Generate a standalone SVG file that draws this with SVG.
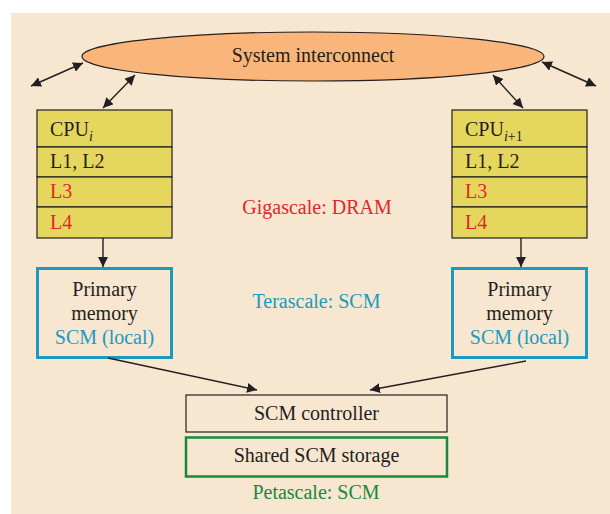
<svg xmlns="http://www.w3.org/2000/svg" width="610" height="514" viewBox="0 0 610 514">
  <defs>
    <marker id="ah" viewBox="0 0 10 10" refX="10" refY="5" markerWidth="10" markerHeight="10" markerUnits="userSpaceOnUse" orient="auto-start-reverse">
      <path d="M0,0 L10,5 L0,10 z" fill="#231f20"/>
    </marker>
    <style>
      text { font-family: "Liberation Serif", "Times New Roman", serif; font-size: 20px; fill: #231f20; }
      .mid { text-anchor: middle; }
      .red { fill: #e2262b; }
      .blue { fill: #1a9bbd; }
      .green { fill: #168a3c; }
      .sub { font-size: 14px; }
      .cell { fill: #e5d75e; stroke: #231f20; stroke-width: 1.2; }
      .mem { fill: #f7e6d0; stroke: #1a9bbd; stroke-width: 3; }
      .link { stroke: #231f20; stroke-width: 1.4; fill: none; }
    </style>
  </defs>

  <!-- backdrop -->
  <rect x="0" y="0" width="610" height="514" fill="#ffffff"/>
  <rect x="11" y="13" width="599" height="501" fill="#f7e6d0"/>

  <!-- interconnect -->
  <g id="interconnect">
    <ellipse cx="313" cy="56.5" rx="231" ry="24.5" fill="#f9b57a" stroke="#231f20" stroke-width="1.2"/>
    <text class="mid" x="313" y="62">System interconnect</text>
  </g>

  <!-- left CPU stack -->
  <g id="cpu-left">
    <rect class="cell" x="37" y="110" width="135" height="37"/>
    <rect class="cell" x="37" y="147" width="135" height="30"/>
    <rect class="cell" x="37" y="177" width="135" height="30"/>
    <rect class="cell" x="37" y="207" width="135" height="31"/>
    <text x="50" y="136">CPU<tspan class="sub" font-style="italic" dy="5">i</tspan></text>
    <text x="50" y="168">L1, L2</text>
    <text class="red" x="50" y="198">L3</text>
    <text class="red" x="50" y="229">L4</text>
  </g>

  <!-- right CPU stack -->
  <g id="cpu-right">
    <rect class="cell" x="452" y="110" width="135" height="37"/>
    <rect class="cell" x="452" y="147" width="135" height="30"/>
    <rect class="cell" x="452" y="177" width="135" height="30"/>
    <rect class="cell" x="452" y="207" width="135" height="31"/>
    <text x="465" y="136">CPU<tspan class="sub" font-style="italic" dy="5">i</tspan><tspan class="sub">+1</tspan></text>
    <text x="465" y="168">L1, L2</text>
    <text class="red" x="465" y="198">L3</text>
    <text class="red" x="465" y="229">L4</text>
  </g>

  <!-- local primary memory -->
  <g id="mem-left">
    <rect class="mem" x="37.5" y="268.5" width="134" height="89"/>
    <text class="mid" x="104.5" y="296">Primary</text>
    <text class="mid" x="104.5" y="320">memory</text>
    <text class="mid blue" x="104.5" y="344">SCM (local)</text>
  </g>
  <g id="mem-right">
    <rect class="mem" x="452.5" y="268.5" width="134" height="89"/>
    <text class="mid" x="519.5" y="296">Primary</text>
    <text class="mid" x="519.5" y="320">memory</text>
    <text class="mid blue" x="519.5" y="344">SCM (local)</text>
  </g>

  <!-- shared storage -->
  <g id="controller">
    <rect x="186" y="395" width="261" height="37" fill="none" stroke="#231f20" stroke-width="1.2"/>
    <text class="mid" x="316.5" y="420">SCM controller</text>
  </g>
  <g id="storage">
    <rect x="186" y="437.5" width="261" height="39" fill="none" stroke="#168a3c" stroke-width="2.5"/>
    <text class="mid" x="316.5" y="462">Shared SCM storage</text>
  </g>

  <!-- scale labels -->
  <g id="labels">
    <text class="mid red" x="317" y="214">Gigascale: DRAM</text>
    <text class="mid blue" x="316.5" y="308">Terascale: SCM</text>
    <text class="mid green" x="316" y="499">Petascale: SCM</text>
  </g>

  <!-- connectors -->
  <g id="connectors">
    <line class="link" x1="31" y1="86" x2="83" y2="63" marker-start="url(#ah)" marker-end="url(#ah)"/>
    <line class="link" x1="103" y1="108" x2="135" y2="75" marker-start="url(#ah)" marker-end="url(#ah)"/>
    <line class="link" x1="493" y1="75" x2="523" y2="108" marker-start="url(#ah)" marker-end="url(#ah)"/>
    <line class="link" x1="542" y1="62" x2="596" y2="86" marker-start="url(#ah)" marker-end="url(#ah)"/>
    <line class="link" x1="103" y1="238" x2="103" y2="267" marker-end="url(#ah)"/>
    <line class="link" x1="521" y1="238" x2="521" y2="267" marker-end="url(#ah)"/>
    <line class="link" x1="108" y1="358" x2="257" y2="390" marker-end="url(#ah)"/>
    <line class="link" x1="526" y1="361" x2="370" y2="390" marker-end="url(#ah)"/>
  </g>
</svg>
